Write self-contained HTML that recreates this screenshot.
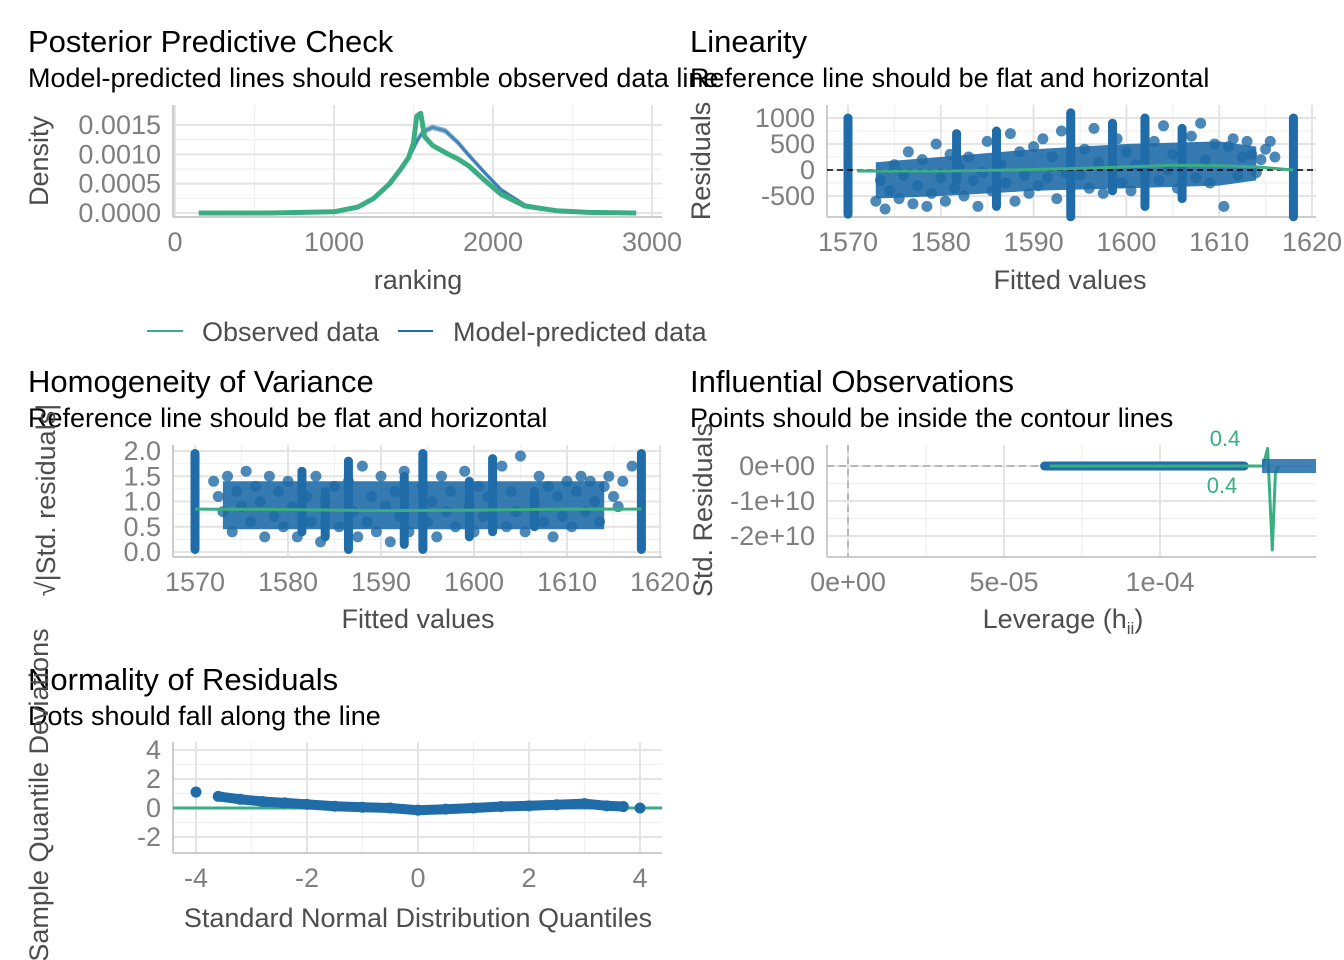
<!DOCTYPE html>
<html><head><meta charset="utf-8">
<style>
html,body{margin:0;padding:0;background:#fff;}
svg{display:block;font-family:"Liberation Sans",Arial,sans-serif;}
.title{font-size:31px;fill:#000;}
.sub{font-size:27px;fill:#000;}
.tick{font-size:27px;fill:#7f7f7f;}
.axt{font-size:27px;fill:#4d4d4d;}
</style></head>
<body>
<svg id="chart" width="1344" height="960" viewBox="0 0 1344 960"></svg>
<script>
// ---- Posterior predictive check data ----
const ppcX = [150,600,1000,1150,1250,1350,1420,1470,1500,1520,1545,1570,1620,1700,1780,1850,1950,2050,2200,2400,2600,2900];
const ppcObs = [0,0,0.00002,0.00010,0.00025,0.00050,0.00075,0.00095,0.0012,0.00165,0.0017,0.00130,0.00115,0.00103,0.00092,0.00080,0.00055,0.00032,0.00012,0.00004,0.00001,0];
const ppcModel = [0,0,0.00002,0.00010,0.00025,0.00050,0.00075,0.00095,0.00110,0.00122,0.00133,0.00140,0.00146,0.00140,0.00120,0.00098,0.00068,0.00040,0.00014,0.00004,0.00001,0];
const ppcXTicks = [0,1000,2000,3000];
const ppcYTicks = [0,0.0005,0.0010,0.0015];
const ppcYLabels = ["0.0000","0.0005","0.0010","0.0015"];
// ---- Linearity ----
const linFitted = [1573,1573.5,1574,1574.5,1575,1575.5,1576,1576.5,1577,1577.5,1578,1578.5,1579,1579.5,1580,1580.5,1581,1581.5,1582,1582.5,1583,1583.5,1584,1584.5,1585,1585.5,1586.5,1587,1587.5,1588,1588.5,1589,1589.5,1590,1590.5,1591,1591.5,1592,1592.5,1593,1593.5,1595,1595.5,1596,1596.5,1597,1597.5,1599,1599.5,1600,1600.5,1601,1603,1603.5,1604,1604.5,1605,1605.5,1607,1607.5,1608,1608.5,1609,1609.5,1610.5,1611,1611.5,1612,1612.5,1613,1613.5,1614,1614.5,1615,1615.5,1616];
const linResid = [-600,-200,-750,-400,100,-550,-100,350,-650,-300,200,-700,-450,500,-150,-600,300,-350,50,-500,250,-200,-700,-50,550,-400,100,-250,700,-600,350,-100,-450,450,-300,600,-150,250,-550,750,-50,-100,400,-350,800,150,-450,600,-250,350,-400,100,550,-200,850,0,300,-350,650,-150,900,200,-250,500,-700,450,600,-100,250,550,300,-50,200,400,550,250];
const linBandX = [1573,1580,1590,1600,1610,1614];
const linBandLo = [-550,-500,-400,-350,-300,-200];
const linBandHi = [150,250,400,500,550,450];
const linStackX = [1570,1581.7,1586,1594,1598.5,1602,1606,1618];
const linStackLo = [-850,-200,-700,-900,-400,-700,-550,-900];
const linStackHi = [1000,700,750,1100,900,1000,800,1000];
const linSmoothX = [1571,1580,1588,1595,1600,1605,1610,1614,1618];
const linSmoothY = [-20,-20,0,30,60,90,80,60,0];
const linXTicks = [1570,1580,1590,1600,1610,1620];
const linYTicks = [-500,0,500,1000];
// ---- Homogeneity ----
const homFitted = [1572,1572.5,1573,1573.5,1574,1574.5,1575,1575.5,1576,1576.5,1577,1577.5,1578,1578.5,1579,1579.5,1580,1580.5,1581,1582,1582.5,1583,1583.5,1584,1585,1585.5,1586.5,1587,1587.5,1588,1588.5,1589,1589.5,1590,1590.5,1591,1591.5,1592,1592.5,1593,1594.5,1595,1595.5,1596,1596.5,1597,1597.5,1598,1599,1599.5,1600,1600.5,1601,1601.5,1603,1603.5,1604,1604.5,1605,1605.5,1606.5,1607,1607.5,1608,1608.5,1609,1609.5,1610,1610.5,1611,1611.5,1612,1612.5,1613,1613.5,1614,1614.5,1615,1615.5,1616,1617];
const homValue = [1.4,1.1,0.8,1.5,0.4,1.2,0.9,1.6,0.6,1.3,1.0,0.3,1.5,0.7,1.2,0.5,1.4,0.9,0.3,1.1,0.6,1.5,0.2,1.0,1.3,0.5,1.4,0.8,0.3,1.7,0.6,1.1,0.4,1.5,0.9,0.2,1.2,0.7,1.6,0.4,1.3,0.6,1.0,0.3,1.5,0.8,1.2,0.5,1.6,0.9,0.4,1.3,0.7,1.1,1.7,0.5,1.2,0.8,1.9,0.4,1.0,1.5,0.6,1.3,0.3,1.1,0.7,1.4,0.5,1.2,1.5,0.8,1.4,1.0,0.6,1.3,1.5,1.1,0.9,1.4,1.7];
const homBandX = [1573,1614];
const homBandLo = [0.45,0.45];
const homBandHi = [1.4,1.4];
const homStackX = [1570,1581.5,1584,1586.5,1592.5,1594.5,1599.5,1602,1606.5,1618];
const homStackLo = [0.05,0.4,0.3,0.05,0.15,0.05,0.3,0.4,0.5,0.05];
const homStackHi = [1.95,1.6,1.2,1.8,1.5,1.95,1.4,1.85,1.2,1.95];
const homSmoothX = [1570,1580,1590,1600,1610,1618];
const homSmoothY = [0.85,0.84,0.82,0.83,0.85,0.85];
const homXTicks = [1570,1580,1590,1600,1610,1620];
const homYTicks = [0,0.5,1,1.5,2];
const homYLabels = ["0.0","0.5","1.0","1.5","2.0"];
// ---- Influential ----
const infLevStart = [6.3e-5];
const infLevEnd = [1.27e-4];
const infContourX = [1.25e-4,1.3e-4,1.33e-4,1.345e-4,1.36e-4,1.37e-4,1.38e-4];
const infContourY = [0,0,0,0.5e10,-2.4e10,-0.2e10,0];
const infXTicks = [0,5e-5,1e-4];
const infXLabels = ["0e+00","5e-05","1e-04"];
const infYTicks = [-2e10,-1e10,0];
const infYLabels = ["-2e+10","-1e+10","0e+00"];
// ---- Normality ----
const qqX = [-4,-3.6,-3.2,-2.8,-2.4,-2,-1.5,-1,-0.5,0,0.5,1,1.5,2,2.5,3,3.4,3.7,4];
const qqY = [1.1,0.8,0.6,0.45,0.35,0.25,0.12,0.05,0.0,-0.15,-0.08,0.0,0.1,0.15,0.22,0.3,0.15,0.1,0.0];
const qqXTicks = [-4,-2,0,2,4];
const qqYTicks = [-2,0,2,4];

const NS='http://www.w3.org/2000/svg';
const svg=document.getElementById('chart');
function el(tag,attrs,parent){const e=document.createElementNS(NS,tag);for(const k in attrs)e.setAttribute(k,attrs[k]);(parent||svg).appendChild(e);return e;}
function txt(s,x,y,cls,anchor,parent,extra){const t=el('text',Object.assign({x:x,y:y,class:cls,'text-anchor':anchor||'start'},extra||{}),parent);t.textContent=s;return t;}
function lin(d0,d1,r0,r1){return v=>r0+(v-d0)*(r1-r0)/(d1-d0);}
const BLUE='#1f6ca8',GREEN='#3aae82';

function panel(name,box,xs,ys,xt,xl,yt,yl){
  const g=el('g',{},svg);
  
  
  const grid=el('g',{},g);
  
  
  for(let i=0;i<xt.length-1;i++){const m=xs((xt[i]+xt[i+1])/2);if(m>box.x0&&m<box.x1)el('line',{x1:m,x2:m,y1:box.y0,y2:box.y1,stroke:'#f0f0f0','stroke-width':1.2},grid);}
  for(let i=0;i<yt.length-1;i++){const m=ys((yt[i]+yt[i+1])/2);el('line',{x1:box.x0,x2:box.x1,y1:m,y2:m,stroke:'#f0f0f0','stroke-width':1.2},grid);}
  xt.forEach((v,i)=>{const x=xs(v);el('line',{x1:x,x2:x,y1:box.y0,y2:box.y1,stroke:'#e4e4e4','stroke-width':2},grid);
    const t=txt(xl[i],x,box.y1+34,'tick','middle',g);});
  yt.forEach((v,i)=>{const y=ys(v);el('line',{x1:box.x0,x2:box.x1,y1:y,y2:y,stroke:'#e4e4e4','stroke-width':2},grid);
    const t=txt(yl[i],box.x0-12,y+9,'tick','end',g);});
  el('line',{x1:box.x0,x2:box.x0,y1:box.y0,y2:box.y1,stroke:'#cccccc','stroke-width':2},g);
  el('line',{x1:box.x0,x2:box.x1,y1:box.y1,y2:box.y1,stroke:'#cccccc','stroke-width':2},g);
  return g;
}
function heading(t,s,x,y){
  const a=txt(t,x,y,'title');
  const b=txt(s,x,y+35,'sub');
}
function ytitle(s,x,y){const t=txt(s,x,y,'axt','middle',svg,{transform:`rotate(-90 ${x} ${y})`});return t;}
function xtitle(s,x,y){const t=txt(s,x,y,'axt','middle');return t;}
function path(xsArr,ysArr,xs,ys){return xsArr.map((v,i)=>(i?'L':'M')+xs(v).toFixed(1)+','+ys(ysArr[i]).toFixed(1)).join(' ');}
function band(bx,lo,hi,xs,ys,g){
  const d=path(bx,hi,xs,ys)+' '+bx.slice().reverse().map((v,i)=>'L'+xs(v).toFixed(1)+','+ys(lo[bx.length-1-i]).toFixed(1)).join(' ')+' Z';
  const p=el('path',{d:d,fill:BLUE,'fill-opacity':0.9},g);
  
  
}
function dots(fx,fy,xs,ys,g){
  const n=Math.min(fx.length,fy.length);
  for(let i=0;i<n;i++){const c=el('circle',{cx:xs(fx[i]),cy:ys(fy[i]),r:5.5,fill:BLUE,'fill-opacity':0.8},g);
    
    }
}

// Panel 1 PPC
heading('Posterior Predictive Check','Model-predicted lines should resemble observed data line',28,52);
{const box={x0:173,x1:662,y0:105,y1:217};const xs=lin(0,3000,175,652),ys=lin(0,0.0015,213,125);
 const g=panel('ppc-panel',box,xs,ys,ppcXTicks,ppcXTicks.map(String),ppcYTicks,ppcYLabels);
 for(let k=0;k<3;k++){const p=el('path',{d:path(ppcX,ppcModel.map(v=>v*(1+(k-1)*0.015)),xs,ys),fill:'none',stroke:BLUE,'stroke-width':3,'stroke-opacity':0.5},g);}
 const o=el('path',{d:path(ppcX,ppcObs,xs,ys),fill:'none',stroke:GREEN,'stroke-width':5,'stroke-linejoin':'round'},g);
 
 ytitle('Density',48,161);xtitle('ranking',418,289);
 const lg=el('g',{});
 el('line',{x1:147,x2:183,y1:331,y2:331,stroke:GREEN,'stroke-width':2},lg);txt('Observed data',202,341,'axt','start',lg);
 el('line',{x1:398,x2:433,y1:331,y2:331,stroke:BLUE,'stroke-width':2},lg);txt('Model-predicted data',453,341,'axt','start',lg);
}
// Panel 2 Linearity
heading('Linearity','Reference line should be flat and horizontal',690,52);
{const box={x0:827,x1:1316,y0:105,y1:217};const xs=lin(1570,1620,848,1312),ys=lin(0,1000,170,118);
 const g=panel('linearity-panel',box,xs,ys,linXTicks,linXTicks.map(String),linYTicks,linYTicks.map(String));
 band(linBandX,linBandLo,linBandHi,xs,ys,g);
 linStackX.forEach((v,i)=>{const s=el('line',{x1:xs(v),x2:xs(v),y1:ys(linStackLo[i]),y2:ys(linStackHi[i]),stroke:BLUE,'stroke-width':9,'stroke-linecap':'round'},g);});
 dots(linFitted,linResid,xs,ys,g);
 el('line',{x1:box.x0,x2:box.x1,y1:ys(0),y2:ys(0),stroke:'#000','stroke-width':1.5,'stroke-dasharray':'6,4'},g);
 const sm=el('path',{d:path(linSmoothX,linSmoothY,xs,ys),fill:'none',stroke:GREEN,'stroke-width':3},g);
 ytitle('Residuals',710,161);xtitle('Fitted values',1070,289);
}
// Panel 3 Homogeneity
heading('Homogeneity of Variance','Reference line should be flat and horizontal',28,392);
{const box={x0:173,x1:662,y0:445,y1:557};const xs=lin(1570,1620,195,660),ys=lin(0,2,552,451);
 const g=panel('homogeneity-panel',box,xs,ys,homXTicks,homXTicks.map(String),homYTicks,homYLabels);
 band(homBandX,homBandLo,homBandHi,xs,ys,g);
 homStackX.forEach((v,i)=>{const s=el('line',{x1:xs(v),x2:xs(v),y1:ys(homStackLo[i]),y2:ys(homStackHi[i]),stroke:BLUE,'stroke-width':9,'stroke-linecap':'round'},g);});
 dots(homFitted,homValue,xs,ys,g);
 const sm=el('path',{d:path(homSmoothX,homSmoothY,xs,ys),fill:'none',stroke:GREEN,'stroke-width':3},g);
 ytitle('√|Std. residuals|',55,500);xtitle('Fitted values',418,628);
}
// Panel 4 Influential
heading('Influential Observations','Points should be inside the contour lines',690,392);
{const box={x0:827,x1:1316,y0:445,y1:557};const xs=lin(0,1e-4,848,1160),ys=lin(0,-2e10,466,536);
 const g=panel('influential-panel',box,xs,ys,infXTicks,infXLabels,infYTicks,infYLabels);
 el('line',{x1:xs(0),x2:xs(0),y1:box.y0,y2:box.y1,stroke:'#aaa','stroke-width':1.5,'stroke-dasharray':'7,5'},g);
 el('line',{x1:box.x0,x2:xs(infLevStart[0]),y1:ys(0),y2:ys(0),stroke:'#aaa','stroke-width':1.5,'stroke-dasharray':'7,5'},g);
 const pts=el('line',{x1:xs(infLevStart[0]),x2:xs(infLevEnd[0]),y1:ys(0),y2:ys(0),stroke:BLUE,'stroke-width':9,'stroke-linecap':'round'},g);
 
 el('line',{x1:xs(infLevStart[0])+5,x2:xs(infLevEnd[0]),y1:ys(0),y2:ys(0),stroke:GREEN,'stroke-width':3},g);
 const ct=el('path',{d:path(infContourX,infContourY,xs,ys),fill:'none',stroke:GREEN,'stroke-width':3,'stroke-linejoin':'round'},g);
 
 const l1=txt('0.4',1222,493,'tick','middle',g);l1.style.fill=GREEN;l1.style.fontSize='22px';
 const l2=txt('0.4',1225,446,'tick','middle',g);l2.style.fill=GREEN;l2.style.fontSize='22px';
 const lb=el('rect',{x:1262,y:459,width:54,height:14,fill:BLUE,'fill-opacity':0.85},g);
 ytitle('Std. Residuals',712,510);
 const xt=xtitle('Leverage (h',1063,628);const sb=el('tspan',{'font-size':'17','dy':'6'},xt);sb.textContent='ii';const cl=el('tspan',{'dy':'-6'},xt);cl.textContent=')';
}
// Panel 5 Normality
heading('Normality of Residuals','Dots should fall along the line',28,690);
{const box={x0:173,x1:662,y0:742,y1:853};const xs=lin(0,4,418,640),ys=lin(0,4,808,750);
 const g=panel('normality-panel',box,xs,ys,qqXTicks,qqXTicks.map(String),qqYTicks,qqYTicks.map(String));
 el('line',{x1:box.x0,x2:box.x1,y1:ys(0),y2:ys(0),stroke:GREEN,'stroke-width':3},g);
 const qp=el('path',{d:path(qqX.slice(1,-1),qqY.slice(1,-1),xs,ys),fill:'none',stroke:BLUE,'stroke-width':10,'stroke-linecap':'round'},g);
 
 qqX.forEach((v,i)=>{const c=el('circle',{cx:xs(v),cy:ys(qqY[i]),r:5.5,fill:BLUE},g);});
 ytitle('Sample Quantile Deviations',48,795);xtitle('Standard Normal Distribution Quantiles',418,927);
}
</script>
</body></html>
